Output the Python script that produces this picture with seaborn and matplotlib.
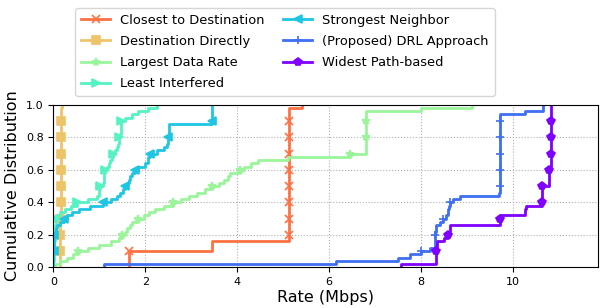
import numpy as np
import seaborn as sns
import matplotlib
matplotlib.use("Agg")
import matplotlib.pyplot as plt

# sorted per-run rates (Mbps), 50 runs per method
closest = [1.65] * 5 + [3.45] * 3 + [5.12] * 41 + [5.40]
destination = [0.14, 0.14, 0.15, 0.15, 0.15, 0.15, 0.15, 0.15, 0.15, 0.15,
               0.15, 0.15, 0.15, 0.15, 0.15, 0.15, 0.16, 0.16, 0.16, 0.16,
               0.16, 0.16, 0.16, 0.16, 0.16, 0.16, 0.16, 0.16, 0.16, 0.16,
               0.16, 0.16, 0.16, 0.16, 0.16, 0.16, 0.16, 0.16, 0.16, 0.16,
               0.16, 0.16, 0.16, 0.16, 0.16, 0.17, 0.17, 0.17, 0.17, 0.18]
largest = [0.04, 0.15, 0.30, 0.42, 0.54, 0.75, 1.00, 1.25, 1.42, 1.49,
           1.55, 1.60, 1.66, 1.72, 1.85, 1.98, 2.08, 2.20, 2.40, 2.61,
           2.78, 2.95, 3.12, 3.30, 3.44, 3.60, 3.72, 3.80, 3.84, 4.06,
           4.15, 4.30, 4.45, 5.10, 6.45, 6.80, 6.80, 6.80, 6.80, 6.80,
           6.80, 6.80, 6.80, 6.80, 6.80, 6.80, 6.80, 6.81, 8.00, 9.10]
least = [0.00, 0.00, 0.01, 0.01, 0.01, 0.02, 0.02, 0.02, 0.03, 0.03,
         0.03, 0.04, 0.04, 0.05, 0.05, 0.08, 0.15, 0.25, 0.38, 0.52,
         0.75, 0.95, 1.00, 1.00, 1.02, 1.08, 1.10, 1.10, 1.11, 1.12,
         1.17, 1.20, 1.24, 1.27, 1.30, 1.33, 1.38, 1.40, 1.42, 1.43,
         1.45, 1.46, 1.46, 1.47, 1.47, 1.55, 1.70, 1.85, 2.05, 2.25]
strongest = [0.00, 0.00, 0.00, 0.00, 0.01, 0.01, 0.01, 0.01, 0.02, 0.02,
             0.03, 0.05, 0.08, 0.15, 0.23, 0.30, 0.40, 0.55, 0.80, 1.07,
             1.25, 1.38, 1.45, 1.52, 1.56, 1.60, 1.65, 1.66, 1.70, 1.78,
             1.85, 2.00, 2.05, 2.06, 2.10, 2.25, 2.40, 2.48, 2.50, 2.50,
             2.51, 2.52, 2.52, 2.52, 3.45, 3.45, 3.45, 3.45, 3.45, 3.46]
drl = [1.10, 6.15, 7.50, 7.75, 8.00, 8.20, 8.30, 8.30, 8.30, 8.30,
       8.31, 8.32, 8.33, 8.40, 8.48, 8.55, 8.59, 8.59, 8.60, 8.62,
       8.70, 8.84, 9.70, 9.71, 9.71, 9.71, 9.71, 9.71, 9.71, 9.71,
       9.71, 9.71, 9.71, 9.71, 9.71, 9.71, 9.71, 9.71, 9.71, 9.71,
       9.71, 9.71, 9.71, 9.71, 9.71, 9.71, 9.71, 10.25, 10.65, 10.65]
widest = [7.55, 8.33, 8.33, 8.33, 8.33, 8.34, 8.35, 8.35, 8.50, 8.59,
          8.60, 8.62, 8.62, 9.71, 9.71, 9.72, 10.25, 10.26, 10.27, 10.62,
          10.62, 10.62, 10.62, 10.63, 10.63, 10.79, 10.79, 10.79, 10.79, 10.79,
          10.82, 10.82, 10.82, 10.82, 10.82, 10.82, 10.82, 10.82, 10.82, 10.82,
          10.82, 10.82, 10.82, 10.82, 10.82, 10.82, 10.82, 10.82, 10.82, 10.83]

labels = ['Closest to Destination', 'Destination Directly', 'Largest Data Rate',
          'Least Interfered', 'Strongest Neighbor', '(Proposed) DRL Approach',
          'Widest Path-based']
series = [closest, destination, largest, least, strongest, drl, widest]
colors = ['#ff7043', '#eec46a', '#9af59a', '#55f2c4', '#1ec6e4', '#3f6ff2', '#8000ff']
markers = ['x', 's', '*', '>', '<', '+', 'p']

fig = plt.figure(figsize=(6, 3.08), dpi=100)
ax = fig.add_axes([0.089, 0.132, 0.908, 0.528])

for data, lab, c, m in zip(series, labels, colors, markers):
    n = len(data)
    sns.ecdfplot(x=np.array(data), ax=ax, color=c, label=lab, lw=2,
                 marker=m, markersize=6, mew=1.2,
                 markevery=list(range(n // 10, n, n // 10)))

ax.set_xlim(0, 11.85)
ax.set_ylim(0, 1)
ax.set_xticks([0, 2, 4, 6, 8, 10])
ax.set_yticks([0, 0.2, 0.4, 0.6, 0.8, 1.0])
ax.tick_params(labelsize=8)
ax.grid(ls=':', color='#b0b0b0', lw=0.8)
ax.set_xlabel('Rate (Mbps)', fontsize=11.5, labelpad=2)
ax.set_ylabel('Cumulative Distribution', fontsize=11.5, labelpad=4)

ax.legend(loc='upper center', bbox_to_anchor=(0.475, 0.995),
          bbox_transform=fig.transFigure, ncol=2, fontsize=9.4,
          labelspacing=0.62, columnspacing=1.4, borderpad=0.45,
          handlelength=2.2)

fig.savefig('out.png', dpi=100)
